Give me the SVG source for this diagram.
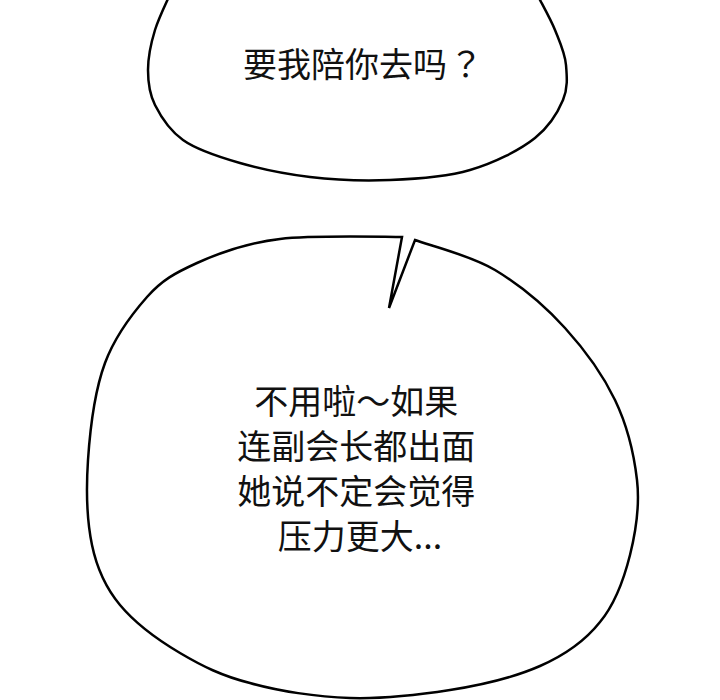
<svg xmlns="http://www.w3.org/2000/svg" width="720" height="700" viewBox="0 0 720 700">
<style>
.bubble{fill:#fff;stroke:#000;stroke-width:2.5;stroke-linejoin:miter;stroke-linecap:round}
.t{font-family:"Noto Sans CJK SC","Noto Sans CJK JP",sans-serif;font-size:34px;fill:#111}
.q{font-family:"Noto Sans CJK TC","Noto Sans CJK SC",sans-serif}
</style>
<rect x="0" y="0" width="720" height="700" fill="#fff"/>
<g id="bubble-top">
<path class="bubble" d="M172,-10 C169,-3 159,17 155,30 C151,43 148,57.5 148,70 C148,82.5 149,93 155,105 C161,117 169,130 183,140 C197,150 219,157 240,163 C261,169 285,174 310,177 C335,180 363,181 390,180 C417,179 446,177 470,170 C494,163 520,150 535,138 C550,126 558,112 563,100 C568,88 567,77 566,65 C565,53 560,42.5 555,30 C550,17.5 538,-3 535,-10 Z"/>
<text class="t" x="243" y="77">要我陪你去吗<tspan class="q" dx="2">？</tspan></text>
</g>
<g id="bubble-bottom">
<path class="bubble" d="M402,237 C382,237 314,235 280,239 C246,243 219,253 197,263 C175,273 162,280 147,297 C132,314 115,336 105,363 C95,390 90,430 88,460 C86,490 87,521 92,545 C97,569 105,587 120,605 C135,623 158,640 180,653 C202,666 222,676 250,683 C278,691 317,697 350,698 C383,699 418,695 450,690 C482,685 515,677 540,666 C565,655 585,641 600,622 C615,604 624,579 630,555 C636,531 640,506 637,480 C634,454 627,425 615,400 C603,375 585,350 565,328 C545,306 520,285 495,270 C470,255 428,245 415,240 L389,308 Z"/>
<text class="t" text-anchor="middle">
<tspan x="360" y="414">不用啦～如果</tspan>
<tspan x="360" y="459">连副会长都出面</tspan>
<tspan x="360" y="504">她说不定会觉得</tspan>
<tspan x="360" y="549">压力更大...</tspan>
</text>
</g>
</svg>
